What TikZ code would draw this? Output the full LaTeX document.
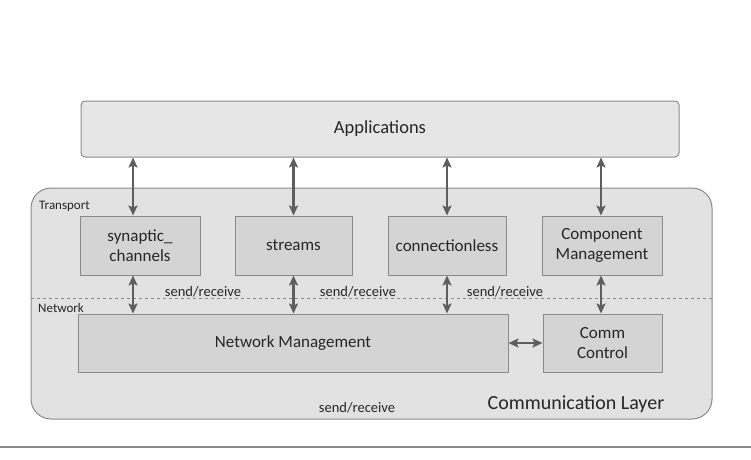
\documentclass[tikz,border=0pt]{standalone}
\usepackage{fontspec}
\setmainfont{Carlito}
\usetikzlibrary{arrows.meta}
\definecolor{boxfill}{HTML}{D4D4D4}
\definecolor{boxline}{HTML}{8A8A8A}
\definecolor{layerfill}{HTML}{E2E2E2}
\definecolor{appfill}{HTML}{E6E6E6}
\definecolor{arrowcol}{HTML}{5E5E5E}
\definecolor{textcol}{HTML}{262626}
\tikzset{
  unitbox/.style={draw=boxline, fill=boxfill, line width=1pt, text=textcol,
    font=\fontsize{17}{19.5}\selectfont, align=center, inner sep=0pt},
  biarrow/.style={draw=arrowcol, line width=2.8pt,
    {Stealth[length=10pt,width=9pt,inset=2pt]}-{Stealth[length=10pt,width=9pt,inset=2pt]}},
  smalllabel/.style={text=textcol, font=\fontsize{14.5}{16}\selectfont, inner sep=0pt},
  tinylabel/.style={text=textcol, font=\fontsize{13}{14}\selectfont, inner sep=0pt, anchor=west},
}
\begin{document}
\begin{tikzpicture}[x=1pt,y=-1pt]
\useasboundingbox (0,0) rectangle (751,459);
% communication layer frame
\draw[boxline, fill=layerfill, line width=1pt, rounded corners=20pt] (31,188) rectangle (712,419);
\draw[boxline, dashed, line width=0.6pt] (31,298) -- (712,298);
\node[tinylabel] (transport) at (39,206) {Transport};
\node[tinylabel] (network) at (38,308) {Network};
% applications
\node[draw=boxline, fill=appfill, line width=1pt, rounded corners=4pt, minimum width=598pt,
  minimum height=56pt, text=textcol, font=\fontsize{18.5}{20}\selectfont] (apps) at (380,129) {Applications};
% transport units
\node[unitbox, minimum width=120pt, minimum height=59pt] (syn) at (140,245.5) {synaptic\_\\channels};
\node[unitbox, minimum width=117pt, minimum height=59pt] (str) at (293.5,245.5) {streams};
\node[unitbox, minimum width=118pt, minimum height=59pt] (cl) at (447,245.5) {connectionless};
\node[unitbox, minimum width=120pt, minimum height=59pt] (cm) at (602,245.5) {Component\\Management};
% network units
\node[unitbox, minimum width=430pt, minimum height=58pt] (nm) at (293,343) {Network Management};
\node[unitbox, minimum width=119pt, minimum height=58pt] (cc) at (602.5,343) {Comm\\Control};
% connectors
\draw[biarrow] (apps.south -| 133,0) -- (syn.north -| 133,0);
\draw[biarrow] (apps.south -| str.north) -- (str.north);
\draw[biarrow] (apps.south -| cl.north) -- (cl.north);
\draw[biarrow] (apps.south -| 601,0) -- (cm.north -| 601,0);
\draw[biarrow] (syn.south -| 133,0) -- (nm.north -| 133,0);
\draw[biarrow] (str.south) -- (nm.north -| str.south);
\draw[biarrow] (cl.south) -- (nm.north -| cl.south);
\draw[biarrow] (cm.south -| 601,0) -- (cc.north -| 601,0);
\draw[biarrow] (nm.east) -- (cc.west);
% labels
\node[smalllabel] (sr1) at (203,292) {send/receive};
\node[smalllabel] (sr2) at (358,292) {send/receive};
\node[smalllabel] (sr3) at (505,292) {send/receive};
\node[smalllabel] (sr4) at (357,408) {send/receive};
\node[text=textcol, font=\fontsize{20}{22}\selectfont, inner sep=0pt] (layer) at (576,404) {Communication Layer};
% base rule
\draw[boxline, line width=1.6pt] (0,447) -- (751,447);
\end{tikzpicture}
\end{document}
